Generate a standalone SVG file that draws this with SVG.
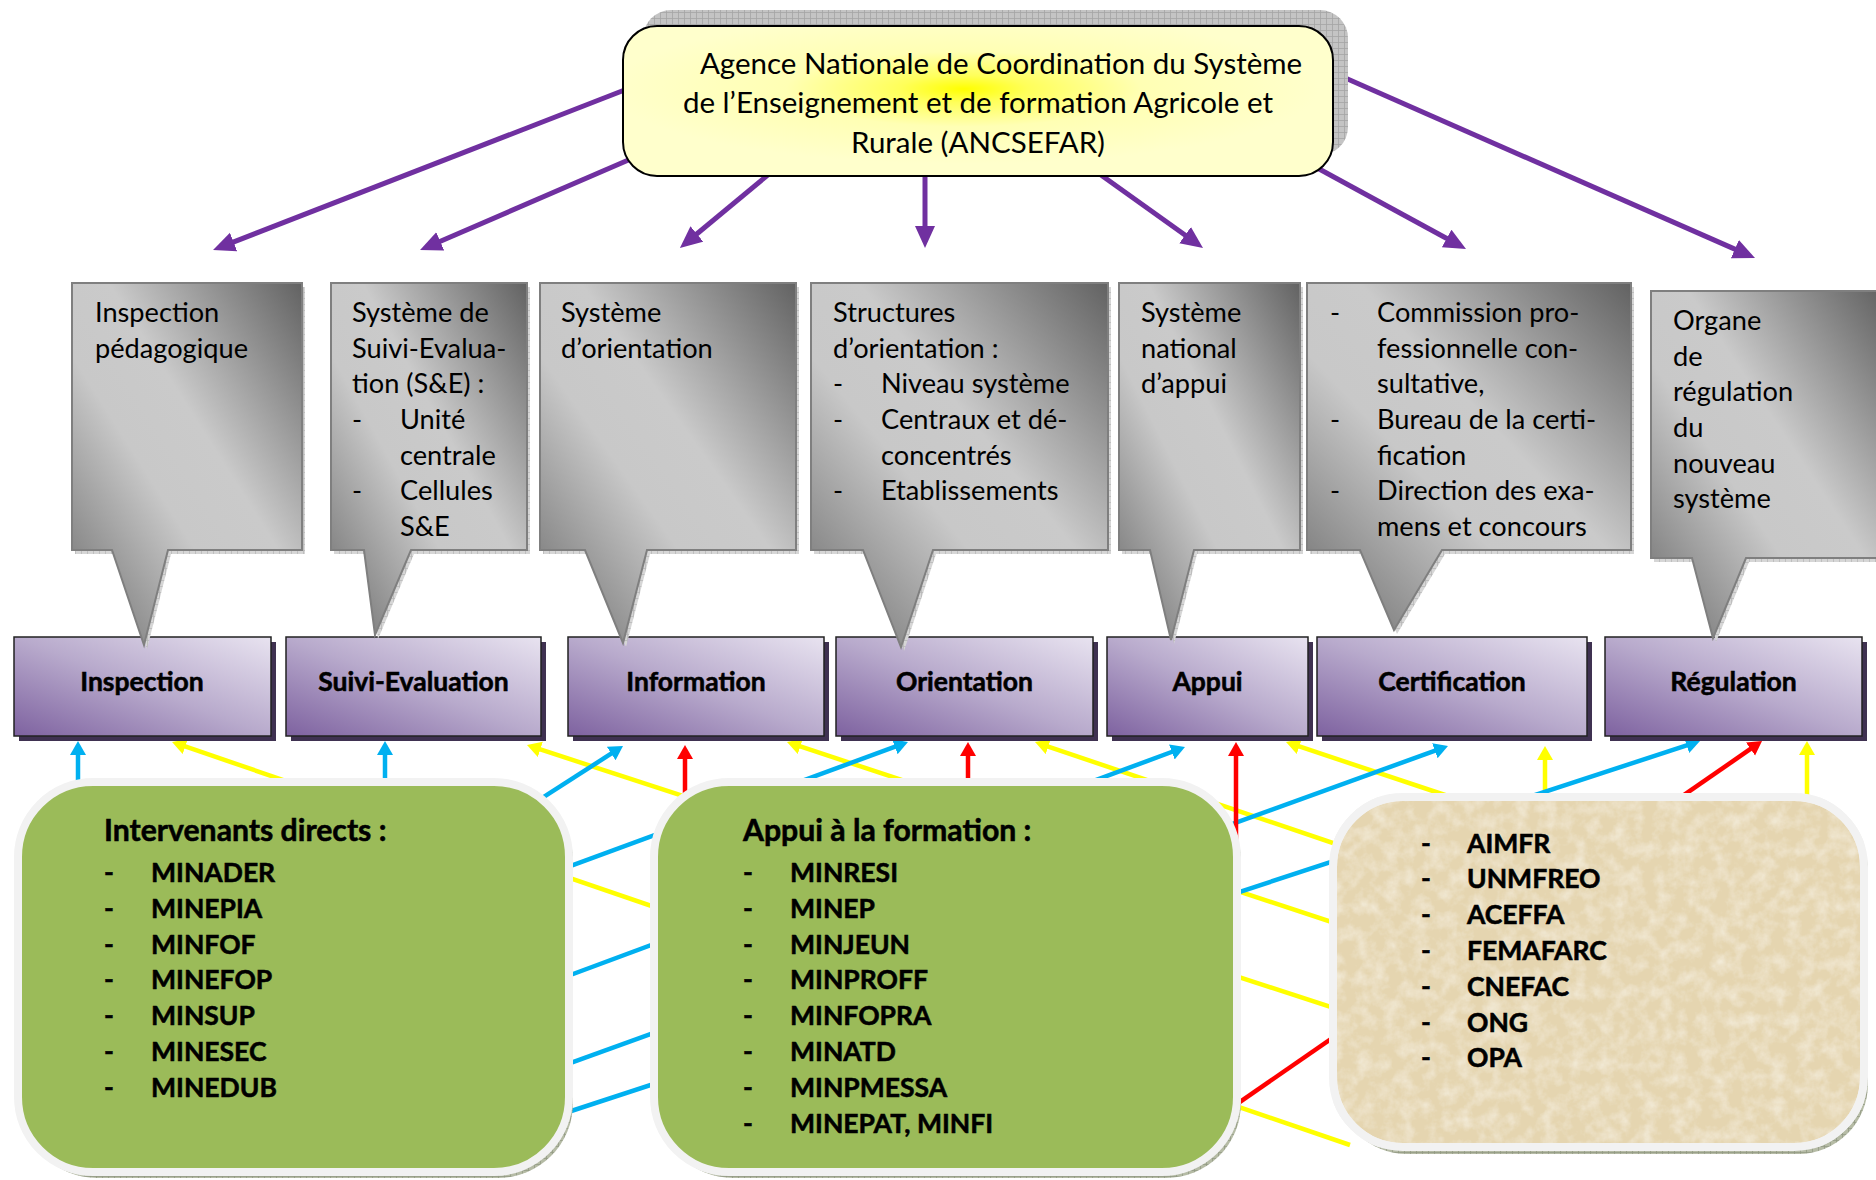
<svg xmlns="http://www.w3.org/2000/svg" width="1876" height="1180" viewBox="0 0 1876 1180">
<defs>
<style>
.t{font-family:Lato,"Open Sans","Liberation Sans",sans-serif;fill:#000}
.c{font-size:27.2px}
.b{font-size:26.5px;font-weight:bold;stroke:#000;stroke-width:0.55}
.h{font-size:30.2px}
.top{font-size:29.5px}
.pl{stroke:#7030A0;stroke-width:5;fill:none;marker-end:url(#ap)}
.bl{stroke:#00B0F0;stroke-width:4.5;fill:none;marker-end:url(#ab)}
.rl{stroke:#FF0000;stroke-width:4.5;fill:none;marker-end:url(#ar)}
.yl{stroke:#FFFF00;stroke-width:4.5;fill:none;marker-end:url(#ay)}
.callout{fill:url(#gGray);stroke:#7F7F7F;stroke-width:2}
.cshadow{fill:url(#gridL)}
.pbox{fill:url(#gPurple);stroke:#222;stroke-width:1.5}
.pshadow{fill:#3F3151}
.gbox{fill:#9BBB59;stroke:#F2F2F2;stroke-width:8}
.gshadow{fill:url(#gridG)}
</style>
<linearGradient id="gPurple" x1="0" y1="1" x2="1" y2="0">
<stop offset="0" stop-color="#7E62A0"/>
<stop offset="0.5" stop-color="#B8AACC"/>
<stop offset="1" stop-color="#E8E3F0"/>
</linearGradient>
<linearGradient id="gGray" x1="1" y1="0" x2="0" y2="1">
<stop offset="0" stop-color="#626262"/>
<stop offset="0.42" stop-color="#CACACA"/>
<stop offset="0.6" stop-color="#C8C8C8"/>
<stop offset="1" stop-color="#6A6A6A"/>
</linearGradient>
<radialGradient id="gYellow" cx="0.48" cy="0.42" r="0.5">
<stop offset="0" stop-color="#FFFF00"/>
<stop offset="0.18" stop-color="#FFFF5A"/>
<stop offset="0.5" stop-color="#FFFFB4"/>
<stop offset="1" stop-color="#FFFFCC"/>
</radialGradient>
<pattern id="grid" width="6" height="6" patternUnits="userSpaceOnUse">
<rect width="6" height="6" fill="#C4C4C4"/>
<path d="M0,0.5H6M0.5,0V6" stroke="#A4A4A4" stroke-width="0.8"/>
</pattern>
<pattern id="gridL" width="6" height="6" patternUnits="userSpaceOnUse">
<rect width="6" height="6" fill="#D6D6D6"/>
<path d="M0,0.5H6M0.5,0V6" stroke="#B8B8B8" stroke-width="0.8"/>
</pattern>
<pattern id="gridG" width="6" height="6" patternUnits="userSpaceOnUse">
<rect width="6" height="6" fill="#B5BBA5"/>
<path d="M0,0.5H6M0.5,0V6" stroke="#939B84" stroke-width="0.8"/>
</pattern>
<filter id="paper" x="0" y="0" width="100%" height="100%">
<feTurbulence type="fractalNoise" baseFrequency="0.07" numOctaves="4" seed="7" result="n"/>
<feColorMatrix in="n" type="matrix" values="0 0 0 0 0.95  0 0 0 0 0.91  0 0 0 0 0.81  0 0 0 1.1 -0.42" result="c"/>
<feComposite in="c" in2="SourceGraphic" operator="in" result="m"/>
<feMerge><feMergeNode in="SourceGraphic"/><feMergeNode in="m"/></feMerge>
</filter>
<marker id="ap" markerUnits="userSpaceOnUse" markerWidth="24" markerHeight="22" refX="8" refY="10" orient="auto"><path d="M0,0L22,10L0,20Z" fill="#7030A0"/></marker>
<marker id="ab" markerUnits="userSpaceOnUse" markerWidth="16" markerHeight="18" refX="4" refY="8" orient="auto"><path d="M0,0L14,8L0,16Z" fill="#00B0F0"/></marker>
<marker id="ar" markerUnits="userSpaceOnUse" markerWidth="16" markerHeight="18" refX="4" refY="8" orient="auto"><path d="M0,0L14,8L0,16Z" fill="#FF0000"/></marker>
<marker id="ay" markerUnits="userSpaceOnUse" markerWidth="16" markerHeight="18" refX="4" refY="8" orient="auto"><path d="M0,0L14,8L0,16Z" fill="#FFFF00"/></marker>
</defs>

<rect width="1876" height="1180" fill="#FFFFFF"/>

<g id="connectors">
<line class="pl" x1="640" y1="84" x2="226.1" y2="244.9"/>
<line class="pl" x1="640" y1="155" x2="432.9" y2="244.5"/>
<line class="pl" x1="775" y1="169" x2="690.7" y2="239"/>
<line class="pl" x1="925" y1="165" x2="925" y2="234"/>
<line class="pl" x1="1094" y1="170" x2="1191.6" y2="239.8"/>
<line class="pl" x1="1310" y1="164" x2="1453.7" y2="242.3"/>
<line class="pl" x1="1318" y1="66" x2="1742.2" y2="252.4"/>

<line class="yl" x1="1350" y1="1145" x2="181.5" y2="745.2"/>
<line class="yl" x1="1380" y1="1023" x2="536.5" y2="748.2"/>
<line class="yl" x1="1380" y1="938" x2="796.5" y2="745.2"/>
<line class="yl" x1="1380" y1="859" x2="1044.5" y2="745.3"/>
<line class="yl" x1="1460" y1="800" x2="1295.5" y2="745.2"/>
<line class="yl" x1="1545" y1="810" x2="1545" y2="756"/>
<line class="yl" x1="1807" y1="810" x2="1807" y2="751"/>

<line class="bl" x1="78" y1="800" x2="78" y2="751"/>
<line class="bl" x1="385" y1="800" x2="385" y2="751"/>
<line class="bl" x1="497" y1="827" x2="614.6" y2="751.4"/>
<line class="bl" x1="530" y1="880.9" x2="898.6" y2="745.4"/>
<line class="bl" x1="530" y1="990" x2="1175.6" y2="750.5"/>
<line class="bl" x1="530" y1="1077.6" x2="1438.6" y2="749.4"/>
<line class="bl" x1="530" y1="1124.5" x2="1690.5" y2="744.1"/>

<line class="rl" x1="685" y1="810" x2="685" y2="755"/>
<line class="rl" x1="968" y1="810" x2="968" y2="752"/>
<line class="rl" x1="1236" y1="900" x2="1236" y2="752"/>
<line class="rl" x1="1210" y1="1122.6" x2="1753.8" y2="746.7"/>
</g>

<g id="agence">
<rect x="643" y="10" width="705" height="145" rx="28" fill="url(#grid)"/>
<rect x="623" y="26" width="710" height="150" rx="34" fill="url(#gYellow)" stroke="#000" stroke-width="2"/>
<text class="t top" x="1001" y="74" text-anchor="middle">Agence Nationale de Coordination du Système</text>
<text class="t top" x="978" y="113" text-anchor="middle">de l’Enseignement et de formation Agricole et</text>
<text class="t top" x="978" y="153" text-anchor="middle">Rurale (ANCSEFAR)</text>
</g>

<g id="box-inspection">
<rect class="pshadow" x="19" y="642" width="257" height="99"/>
<rect class="pbox" x="14" y="637" width="257" height="99"/>
<text class="t b" x="142" y="691" text-anchor="middle">Inspection</text>
</g>
<g id="box-suivi">
<rect class="pshadow" x="291" y="642" width="255" height="99"/>
<rect class="pbox" x="286" y="637" width="255" height="99"/>
<text class="t b" x="413.5" y="691" text-anchor="middle">Suivi-Evaluation</text>
</g>
<g id="box-information">
<rect class="pshadow" x="573" y="642" width="256" height="99"/>
<rect class="pbox" x="568" y="637" width="256" height="99"/>
<text class="t b" x="696" y="691" text-anchor="middle">Information</text>
</g>
<g id="box-orientation">
<rect class="pshadow" x="841" y="642" width="257" height="99"/>
<rect class="pbox" x="836" y="637" width="257" height="99"/>
<text class="t b" x="964.5" y="691" text-anchor="middle">Orientation</text>
</g>
<g id="box-appui">
<rect class="pshadow" x="1112" y="642" width="201" height="99"/>
<rect class="pbox" x="1107" y="637" width="201" height="99"/>
<text class="t b" x="1207.5" y="691" text-anchor="middle">Appui</text>
</g>
<g id="box-certification">
<rect class="pshadow" x="1322" y="642" width="270" height="99"/>
<rect class="pbox" x="1317" y="637" width="270" height="99"/>
<text class="t b" x="1452" y="691" text-anchor="middle">Certification</text>
</g>
<g id="box-regulation">
<rect class="pshadow" x="1610" y="642" width="257" height="99"/>
<rect class="pbox" x="1605" y="637" width="257" height="99"/>
<text class="t b" x="1733.5" y="691" text-anchor="middle">Régulation</text>
</g>

<g id="callout-inspection">
<path class="cshadow" transform="translate(3,4)" d="M72,283H302V550H168L144,645L112,550H72Z"/>
<path class="callout" d="M72,283H302V550H168L144,645L112,550H72Z"/>
<text class="t c" x="95" y="322">Inspection</text>
<text class="t c" x="95" y="358">pédagogique</text>
</g>
<g id="callout-suivi">
<path class="cshadow" transform="translate(3,4)" d="M331,283H527V550H411L375,635L364,550H331Z"/>
<path class="callout" d="M331,283H527V550H411L375,635L364,550H331Z"/>
<text class="t c" x="352" y="322">Système de</text>
<text class="t c" x="352" y="358">Suivi-Evalua-</text>
<text class="t c" x="352" y="393">tion (S&amp;E) :</text>
<text class="t c" x="352" y="429">-</text>
<text class="t c" x="400" y="429">Unité</text>
<text class="t c" x="400" y="465">centrale</text>
<text class="t c" x="352" y="500">-</text>
<text class="t c" x="400" y="500">Cellules</text>
<text class="t c" x="400" y="536">S&amp;E</text>
</g>
<g id="callout-information">
<path class="cshadow" transform="translate(3,4)" d="M540,283H796V550H647L623,643L585,550H540Z"/>
<path class="callout" d="M540,283H796V550H647L623,643L585,550H540Z"/>
<text class="t c" x="561" y="322">Système</text>
<text class="t c" x="561" y="358">d’orientation</text>
</g>
<g id="callout-orientation">
<path class="cshadow" transform="translate(3,4)" d="M811,283H1108V550H933L901,647L863,550H811Z"/>
<path class="callout" d="M811,283H1108V550H933L901,647L863,550H811Z"/>
<text class="t c" x="833" y="322">Structures</text>
<text class="t c" x="833" y="358">d’orientation :</text>
<text class="t c" x="833" y="393">-</text>
<text class="t c" x="881" y="393">Niveau système</text>
<text class="t c" x="833" y="429">-</text>
<text class="t c" x="881" y="429">Centraux et dé-</text>
<text class="t c" x="881" y="465">concentrés</text>
<text class="t c" x="833" y="500">-</text>
<text class="t c" x="881" y="500">Etablissements</text>
</g>
<g id="callout-appui">
<path class="cshadow" transform="translate(3,4)" d="M1119,283H1300V550H1194L1171,640L1150,550H1119Z"/>
<path class="callout" d="M1119,283H1300V550H1194L1171,640L1150,550H1119Z"/>
<text class="t c" x="1141" y="322">Système</text>
<text class="t c" x="1141" y="358">national</text>
<text class="t c" x="1141" y="393">d’appui</text>
</g>
<g id="callout-certification">
<path class="cshadow" transform="translate(3,4)" d="M1307,283H1631V550H1442L1394,630L1360,550H1307Z"/>
<path class="callout" d="M1307,283H1631V550H1442L1394,630L1360,550H1307Z"/>
<text class="t c" x="1330" y="322">-</text>
<text class="t c" x="1377" y="322">Commission pro-</text>
<text class="t c" x="1377" y="358">fessionnelle con-</text>
<text class="t c" x="1377" y="393">sultative,</text>
<text class="t c" x="1330" y="429">-</text>
<text class="t c" x="1377" y="429">Bureau de la certi-</text>
<text class="t c" x="1377" y="465">fication</text>
<text class="t c" x="1330" y="500">-</text>
<text class="t c" x="1377" y="500">Direction des exa-</text>
<text class="t c" x="1377" y="536">mens et concours</text>
</g>
<g id="callout-regulation">
<path class="cshadow" transform="translate(3,4)" d="M1651,291H1882V558H1746L1713,638L1692,558H1651Z"/>
<path class="callout" d="M1651,291H1882V558H1746L1713,638L1692,558H1651Z"/>
<text class="t c" x="1673" y="330">Organe</text>
<text class="t c" x="1673" y="366">de</text>
<text class="t c" x="1673" y="401">régulation</text>
<text class="t c" x="1673" y="437">du</text>
<text class="t c" x="1673" y="473">nouveau</text>
<text class="t c" x="1673" y="508">système</text>
</g>

<g id="intervenants">
<rect class="gshadow" x="22" y="786" width="551" height="392" rx="75"/>
<rect class="gbox" x="18" y="782" width="551" height="390" rx="75"/>
<text class="t b h" x="104" y="841">Intervenants directs :</text>
<text class="t b" x="104" y="882">-</text><text class="t b" x="151" y="882">MINADER</text>
<text class="t b" x="104" y="918">-</text><text class="t b" x="151" y="918">MINEPIA</text>
<text class="t b" x="104" y="954">-</text><text class="t b" x="151" y="954">MINFOF</text>
<text class="t b" x="104" y="989">-</text><text class="t b" x="151" y="989">MINEFOP</text>
<text class="t b" x="104" y="1025">-</text><text class="t b" x="151" y="1025">MINSUP</text>
<text class="t b" x="104" y="1061">-</text><text class="t b" x="151" y="1061">MINESEC</text>
<text class="t b" x="104" y="1097">-</text><text class="t b" x="151" y="1097">MINEDUB</text>
</g>

<g id="appui-formation">
<rect class="gshadow" x="658" y="786" width="583" height="392" rx="75"/>
<rect class="gbox" x="654" y="782" width="583" height="390" rx="75"/>
<text class="t b h" x="743" y="841">Appui à la formation :</text>
<text class="t b" x="743" y="882">-</text><text class="t b" x="790" y="882">MINRESI</text>
<text class="t b" x="743" y="918">-</text><text class="t b" x="790" y="918">MINEP</text>
<text class="t b" x="743" y="954">-</text><text class="t b" x="790" y="954">MINJEUN</text>
<text class="t b" x="743" y="989">-</text><text class="t b" x="790" y="989">MINPROFF</text>
<text class="t b" x="743" y="1025">-</text><text class="t b" x="790" y="1025">MINFOPRA</text>
<text class="t b" x="743" y="1061">-</text><text class="t b" x="790" y="1061">MINATD</text>
<text class="t b" x="743" y="1097">-</text><text class="t b" x="790" y="1097">MINPMESSA</text>
<text class="t b" x="743" y="1133">-</text><text class="t b" x="790" y="1133">MINEPAT, MINFI</text>
</g>

<g id="partenaires">
<rect class="gshadow" x="1337" y="801" width="531" height="353" rx="70"/>
<rect x="1333" y="797" width="531" height="350" rx="70" fill="#E5D5B0" stroke="#F2F2F2" stroke-width="8" filter="url(#paper)"/>
<rect x="1333" y="797" width="531" height="350" rx="70" fill="none" stroke="#F2F2F2" stroke-width="8"/>
<text class="t b" x="1421" y="853">-</text><text class="t b" x="1467" y="853">AIMFR</text>
<text class="t b" x="1421" y="888">-</text><text class="t b" x="1467" y="888">UNMFREO</text>
<text class="t b" x="1421" y="924">-</text><text class="t b" x="1467" y="924">ACEFFA</text>
<text class="t b" x="1421" y="960">-</text><text class="t b" x="1467" y="960">FEMAFARC</text>
<text class="t b" x="1421" y="996">-</text><text class="t b" x="1467" y="996">CNEFAC</text>
<text class="t b" x="1421" y="1032">-</text><text class="t b" x="1467" y="1032">ONG</text>
<text class="t b" x="1421" y="1067">-</text><text class="t b" x="1467" y="1067">OPA</text>
</g>
</svg>
